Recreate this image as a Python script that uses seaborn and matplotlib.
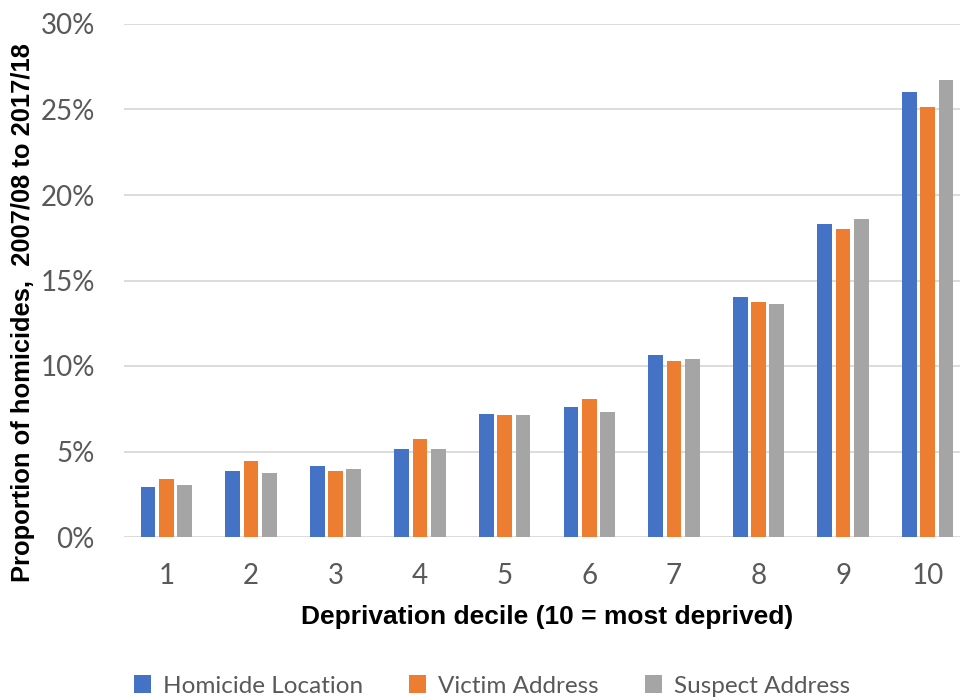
import matplotlib
matplotlib.use("Agg")
import matplotlib.pyplot as plt
import seaborn as sns
import pandas as pd
from matplotlib.ticker import FuncFormatter, MultipleLocator
from matplotlib.patches import Patch

# Share of homicides (%) by deprivation decile, 2007/08 to 2017/18
deciles = ["1", "2", "3", "4", "5", "6", "7", "8", "9", "10"]
homicide_location = [2.92, 3.86, 4.13, 5.15, 7.21, 7.58, 10.66, 14.02, 18.30, 26.00]
victim_address = [3.39, 4.43, 3.86, 5.73, 7.12, 8.05, 10.31, 13.73, 18.02, 25.15]
suspect_address = [3.02, 3.76, 3.96, 5.16, 7.12, 7.31, 10.39, 13.65, 18.60, 26.75]
series_names = ["Homicide Location", "Victim Address", "Suspect Address"]
colors = ["#4472C4", "#ED7D31", "#A5A5A5"]

df = pd.DataFrame({
    "decile": deciles * 3,
    "share": homicide_location + victim_address + suspect_address,
    "series": [s for s in series_names for _ in deciles],
})

sns.set_style("white")
plt.rcParams["font.family"] = ["Lato", "DejaVu Sans"]

fig = plt.figure(figsize=(9.6, 7.0), dpi=100)
ax = fig.add_axes([124 / 960, (700 - 537) / 700, 846 / 960, 513 / 700])

sns.barplot(data=df, x="decile", y="share", hue="series", order=deciles,
            hue_order=series_names, palette=colors, saturation=1,
            width=0.65, gap=0.2, linewidth=0, ax=ax, legend=False, zorder=3)

ax.set_ylim(0, 30)
ax.set_xlim(-0.5, 9.5)
ax.yaxis.set_major_locator(MultipleLocator(5))
ax.yaxis.set_major_formatter(FuncFormatter(lambda v, _: f"{v:.0f}%"))
ax.grid(axis="y", color="#D9D9D9", linewidth=1.3, zorder=0)
ax.set_axisbelow(True)
for s in ax.spines.values():
    s.set_visible(False)
ax.tick_params(axis="both", length=0, labelsize=20, labelcolor="#595959")
ax.tick_params(axis="y", pad=21)
ax.tick_params(axis="x", pad=19)

ax.set_xlabel("Deprivation decile (10 = most deprived)", fontsize=19,
              fontweight="bold", family="Liberation Sans", color="black",
              labelpad=11)
fig.text(0.024, 1 - 313 / 700, "Proportion of homicides,  2007/08 to 2017/18",
         rotation=90, ha="center", va="center", fontsize=18.4,
         fontweight="bold", family="Liberation Sans", color="black")
ax.set_ylabel("")

handles = [Patch(facecolor=c, edgecolor="none") for c in colors]
fig.legend(handles, series_names, loc="center", bbox_to_anchor=(492 / 960, 1 - 686 / 700),
           ncol=3, frameon=False, fontsize=17.5, labelcolor="#595959",
           handlelength=0.7, handleheight=0.7, handletextpad=0.5,
           columnspacing=1.9)

fig.savefig("out.png", dpi=100)
